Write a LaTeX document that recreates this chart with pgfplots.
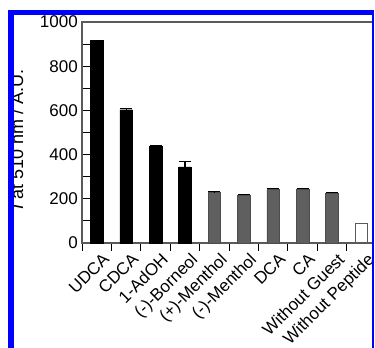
\documentclass[border=0pt]{standalone}
\usepackage{pgfplots}
\pgfplotsset{compat=1.18}
\usepackage{pgfplotstable}
\usepackage{fontspec}
\setmainfont{Liberation Sans}
\definecolor{frameblue}{RGB}{0,0,255}
\definecolor{bargray}{RGB}{95,95,95}
\definecolor{axgray}{RGB}{90,90,90}
\pgfplotstableread{
x y e
0 918 0
1 603 6
2 436 6
3 345 24
}\blackdata
\pgfplotstableread{
x y e
4 229 3
5 217 4
6 244 3
7 244 3
8 226 3
}\graydata
\pgfplotstableread{
x y e
9 86 0
}\whitedata
\begin{document}
\begin{tikzpicture}[x=1pt,y=1pt,font=\fontsize{17}{19}\selectfont]
\useasboundingbox (0,0) rectangle (375,348);
\fill[white] (0,0) rectangle (375,348);
\begin{scope}
\clip (14,0) rectangle (372,333);
\begin{axis}[
  at={(82pt,105pt)}, anchor=south west,
  scale only axis, width=294pt, height=221pt,
  xmin=-0.5, xmax=9.5, ymin=0, ymax=1000,
  /pgf/number format/assume math mode=true,
  /pgf/number format/1000 sep={},
  axis line style={axgray, line width=1.2pt},
  ytick={0,100,...,1000},
  yticklabels={0,,200,,400,,600,,800,,1000},
  ytick pos=left, xtick pos=left,
  tick align=inside,
  major tick length=8pt,
  tick style={black, line width=1pt},
  x tick label as interval,
  xtick={-0.5,0.5,1.5,2.5,3.5,4.5,5.5,6.5,7.5,8.5,9.5},
  xticklabels={UDCA,CDCA,1-AdOH,(-)-Borneol,(+)-Menthol,(-)-Menthol,DCA,CA,Without Guest,Without Peptide},
  x tick label style={font=\fontsize{17}{19}\selectfont, rotate=45, anchor=north east, inner sep=0pt, xshift=3pt, yshift=-4pt},
  y tick label style={font=\fontsize{17}{19}\selectfont, inner sep=0pt, xshift=-4pt},
  ylabel={\textit{I} at 510 nm / A.U.},
  ylabel style={font=\fontsize{18}{20}\selectfont, at={(axis description cs:-0.2,0.47)}, anchor=base, inner sep=0pt},
  ybar, bar width=12.5pt,
  clip=false,
]
\addplot[ybar, bar shift=0pt, fill=black, draw=black,
  error bars/.cd, y dir=plus, y explicit,
  error bar style={black, line width=1.2pt},
  error mark options={rotate=90, mark size=6pt, black, line width=1.2pt}]
  table[x=x, y=y, y error=e] {\blackdata};
\addplot[ybar, bar shift=0pt, fill=bargray, draw=black!70,
  error bars/.cd, y dir=plus, y explicit,
  error bar style={black, line width=1pt},
  error mark options={rotate=90, mark size=6pt, black, line width=1pt}]
  table[x=x, y=y, y error=e] {\graydata};
\addplot[ybar, bar shift=0pt, fill=white, draw=axgray, line width=1pt]
  table[x=x, y=y] {\whitedata};
\end{axis}
\end{scope}
\fill[frameblue] (8,0) rectangle (14,338);
\fill[frameblue] (8,333) rectangle (374,338);
\fill[frameblue] (372,0) rectangle (374,338);
\end{tikzpicture}
\end{document}
